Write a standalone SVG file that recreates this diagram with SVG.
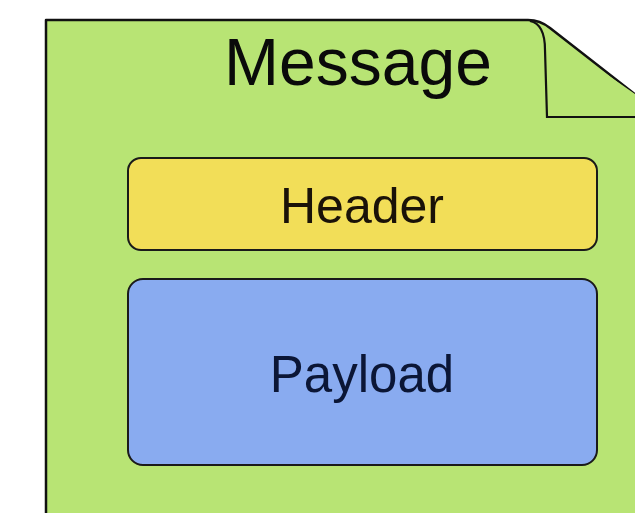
<svg xmlns="http://www.w3.org/2000/svg" width="635" height="513" viewBox="0 0 635 513">
  <style>
    .doc { fill: #b8e474; stroke: #111; stroke-width: 2.5; stroke-linejoin: round; }
    .fold { fill: #b8e474; stroke: #111; stroke-width: 2.2; }
    .box { stroke: #1a1a1a; stroke-width: 2; }
    .label { font-family: "Liberation Sans", Arial, sans-serif; text-anchor: middle; }
  </style>
  <rect width="635" height="513" fill="#ffffff"/>
  <g id="message">
    <path class="doc" d="M46,520 L46,20 L528,20 Q540,20 550,28 L668,120 L668,520 Z"/>
    <path class="fold" d="M530,21 Q545,24 545,50 L547,117 L668,117"/>
    <text class="label" x="358" y="85" font-size="66" fill="#0a0a0a">Message</text>
  </g>
  <g id="header">
    <rect class="box" x="128" y="158" width="469" height="92" rx="13" fill="#f2de58"/>
    <text class="label" x="362" y="223" font-size="50" fill="#1a1208">Header</text>
  </g>
  <g id="payload">
    <rect class="box" x="128" y="279" width="469" height="186" rx="15" fill="#89abf0"/>
    <text class="label" x="362" y="392" font-size="51" fill="#0b1636">Payload</text>
  </g>
</svg>
